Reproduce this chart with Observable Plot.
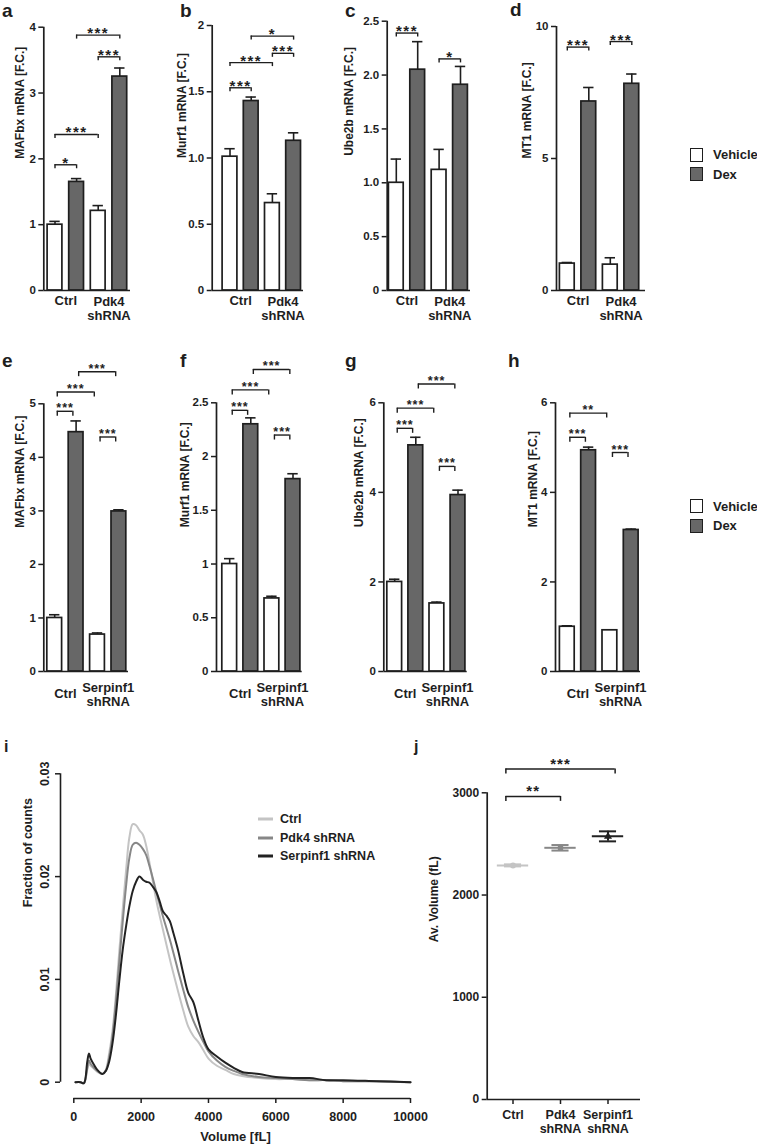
<!DOCTYPE html>
<html><head><meta charset="utf-8">
<script src="https://cdn.jsdelivr.net/npm/d3@7"></script>
<script src="https://cdn.jsdelivr.net/npm/@observablehq/plot@0.6"></script>
<style>
body{margin:0;background:#fff;}
#page{position:relative;width:757px;height:1148px;overflow:hidden;font-family:"Liberation Sans",Arial,sans-serif;font-weight:bold;color:#1e1e1e;background:#fff;}
.abs{position:absolute;}
.letter{position:absolute;font-size:19px;line-height:1.1;}
.sw{position:absolute;width:13px;height:14px;box-sizing:border-box;border:1.5px solid #1e1e1e;}
.lt{position:absolute;font-size:13px;line-height:1.2;transform:translateY(-50%);white-space:nowrap;}
.ll{position:absolute;width:15px;height:3px;transform:translateY(-50%);}
</style></head><body><div id="page"></div><script>
// ---------------- data ----------------
const treatments = ["Vehicle", "Dex"];
const groupsPdk4 = ["Ctrl", "Pdk4\nshRNA"];
const groupsSerp = ["Ctrl", "Serpinf1\nshRNA"];

// order: Ctrl-Vehicle, Ctrl-Dex, shRNA-Vehicle, shRNA-Dex
const mafbxPdk4 = [1.00, 1.65, 1.21, 3.25];
const mafbxPdk4Err = [0.05, 0.05, 0.08, 0.13];
const murf1Pdk4 = [1.01, 1.43, 0.66, 1.13];
const murf1Pdk4Err = [0.06, 0.03, 0.07, 0.06];
const ube2bPdk4 = [1.00, 2.05, 1.12, 1.91];
const ube2bPdk4Err = [0.22, 0.26, 0.19, 0.17];
const mt1Pdk4 = [1.02, 7.16, 0.98, 7.83];
const mt1Pdk4Err = [0.04, 0.53, 0.26, 0.37];

const mafbxSerp = [1.00, 4.47, 0.69, 2.99];
const mafbxSerpErr = [0.06, 0.21, 0.03, 0.03];
const murf1Serp = [1.00, 2.30, 0.68, 1.79];
const murf1SerpErr = [0.05, 0.06, 0.02, 0.05];
const ube2bSerp = [2.00, 5.05, 1.52, 3.94];
const ube2bSerpErr = [0.06, 0.18, 0.03, 0.11];
const mt1Serp = [1.00, 4.94, 0.92, 3.16];
const mt1SerpErr = [0.02, 0.07, 0.01, 0.02];

// brackets: [from bar, to bar, height, label]
const brA = [[0,1,1.91,"*"],[0,2,2.37,"***"],[2,3,3.55,"***"],[1,3,3.88,"***"]];
const brB = [[0,1,1.53,"***"],[0,2,1.72,"***"],[2,3,1.79,"***"],[1,3,1.92,"*"]];
const brC = [[0,1,2.39,"***"],[2,3,2.15,"*"]];
const brD = [[0,1,9.22,"***"],[2,3,9.43,"***"]];
const brE = [[0,1,4.86,"***"],[0,2,5.22,"***"],[1,3,5.60,"***"],[2,3,4.38,"***"]];
const brF = [[0,1,2.43,"***"],[0,2,2.62,"***"],[1,3,2.81,"***"],[2,3,2.20,"***"]];
const brG = [[0,1,5.43,"***"],[0,2,5.88,"***"],[1,3,6.42,"***"],[2,3,4.58,"***"]];
const brH = [[0,1,5.23,"***"],[0,2,5.77,"**"],[2,3,4.89,"***"]];

const ticksA = [0,1,2,3,4], labelsA = ["0","1","2","3","4"];
const ticksB = [0,0.5,1,1.5,2], labelsB = ["0","0.5","1.0","1.5","2"];
const ticksC = [0,0.5,1,1.5,2,2.5], labelsC = ["0","0.5","1.0","1.5","2.0","2.5"];
const ticksD = [0,5,10], labelsD = ["0","5","10"];
const ticksE = [0,1,2,3,4,5], labelsE = ["0","1","2","3","4","5"];
const ticksF = [0,0.5,1,1.5,2,2.5], labelsF = ["0","0.5","1","1.5","2","2.5"];
const ticksG = [0,2,4,6], labelsG = ["0","2","4","6"];
const ticksH = [0,2,4,6], labelsH = ["0","2","4","6"];

// panel i: cell volume distributions
const iSeries = ["Ctrl", "Pdk4 shRNA", "Serpinf1 shRNA"];
const iVolume = [50,200,300,400,450,500,600,700,850,950,1050,1150,1250,1350,1450,1550,1650,1750,1850,1950,2050,2150,2250,2350,2450,2550,2650,2750,2850,2950,3100,3250,3400,3550,3700,3850,4000,4250,4500,4750,5000,5500,6000,6500,7000,7500,8000,9000,10000];
const iCtrl = [0,0,-0.0001,0.0012,0.0018,0.0016,0.0013,0.0010,0.0008,0.0012,0.0028,0.0050,0.0085,0.0127,0.0167,0.0205,0.0238,0.0251,0.0250,0.0245,0.0241,0.0230,0.0213,0.0195,0.0177,0.0162,0.0148,0.0134,0.0120,0.0107,0.0088,0.0070,0.0054,0.0045,0.0039,0.0031,0.0023,0.0016,0.0012,0.0008,0.0006,0.0004,0.0003,0.0003,0.0002,0.0002,0.0001,0.0001,0.0000];
const iPdk4 = [0,0,-0.0001,0.0014,0.0021,0.0018,0.0014,0.0011,0.0008,0.0011,0.0024,0.0045,0.0078,0.0117,0.0155,0.0190,0.0218,0.0231,0.0233,0.0231,0.0227,0.0221,0.0210,0.0198,0.0185,0.0173,0.0161,0.0150,0.0139,0.0127,0.0108,0.0090,0.0073,0.0060,0.0049,0.0039,0.0030,0.0021,0.0015,0.0011,0.0008,0.0005,0.0004,0.0003,0.0002,0.0002,0.0001,0.0001,0.0000];
const iSerp = [0,0,-0.0001,0.0020,0.0028,0.0023,0.0017,0.0012,0.0008,0.0011,0.0020,0.0038,0.0065,0.0098,0.0128,0.0151,0.0171,0.0186,0.0195,0.0200,0.0197,0.0195,0.0194,0.0190,0.0185,0.0176,0.0166,0.0162,0.0157,0.0146,0.0128,0.0106,0.0087,0.0078,0.0060,0.0043,0.0032,0.0025,0.0019,0.0014,0.0010,0.0008,0.0005,0.0004,0.0004,0.0002,0.0002,0.0001,0.0000];
const iXTicks = [0,2000,4000,6000,8000,10000], iXLabels = ["0","2000","4000","6000","8000","10000"];
const iYTicks = [0,0.01,0.02,0.03], iYLabels = ["0","0.01","0.02","0.03"];

// panel j: average volume
const jGroups = ["Ctrl", "Pdk4\nshRNA", "Serpinf1\nshRNA"];
const jMean = [2290, 2462, 2574];
const jSem = [10, 27, 49];
const jBrackets = [[-0.15, 1.0, 2965, "**"], [-0.15, 2.15, 3233, "***"]];
const jTicks = [0,1000,2000,3000], jLabels = ["0","1000","2000","3000"];

// ---------------- styles / layout ----------------
const DEX = "#676767";
const seriesColors = ["#c4c4c4", "#878787", "#222222"];
const jSymbols = ["circle", "square", "triangle"];
const baseStyle = {background:"transparent", overflow:"visible", fontFamily:'"Liberation Sans", Arial, sans-serif', fontSize:"12px", fontWeight:"bold", display:"block"};
const page = document.getElementById("page");
function place(node, left, top, width, height){
  const d = document.createElement("div");
  d.className = "abs"; d.style.left = left+"px"; d.style.top = top+"px";
  d.style.width = width+"px"; d.style.height = height+"px";
  d.appendChild(node); page.appendChild(d);
}
function spaceStars(svg, sp){
  svg.querySelectorAll("text").forEach(t => { if (/^\*+$/.test(t.textContent)) t.setAttribute("letter-spacing", sp); });
}
const row1 = {top:0, height:335, y0:290, singleDy:5.5, multiDy:5.5, starDy:3, starSize:15, starSp:1.5, legPx:4, brIn1:0, brIn2:0, titleDy:0};
const row2 = {top:345, height:365, y0:671, singleDy:17, multiDy:10.5, starDy:1, starSize:12.5, starSp:1, legPx:5, brIn1:0.12, brIn2:0.15, titleDy:-10};

function barPanel(P){
  const L = Object.assign({}, P.row, P.layout);
  const xLo = (L.axisX - L.c0)/L.step, xHi = (L.baseEnd - L.c0)/L.step;
  const ppu = (L.y0 - L.yTopPx)/P.yTop;
  const hw = 7.4/L.step, cap = 5.2/L.step, leg = L.legPx/ppu;
  const bars = P.vals.map((v,k)=>({pos:k, g:P.groups[Math.floor(k/2)], t:treatments[k%2], v, top:v + P.errs[k]}));
  const br = P.brackets.map(([a,b,y,s])=>({x1:a + L.brIn1, x2:b - L.brIn2, y, s}));
  const labelMap = new Map(P.ticks.map((t,k)=>[t, P.tickLabels[k]]));
  const groupRows = P.groups.map((g,k)=>({g, pos:2*k + 0.5, multi:g.includes("\n")}));
  const svg = Plot.plot({
    width:L.width, height:L.height,
    marginLeft:L.axisX - L.left, marginRight:L.left + L.width - L.baseEnd,
    marginTop:L.yTopPx - L.top, marginBottom:L.top + L.height - L.y0,
    x:{type:"linear", domain:[xLo, xHi], axis:null},
    y:{type:"linear", domain:[0, P.yTop]},
    style:baseStyle,
    marks:[
      Plot.ruleX(bars, {x:"pos", y1:"v", y2:"top", strokeWidth:1.6}),
      Plot.ruleY(bars, {y:"top", x1:d=>d.pos-cap, x2:d=>d.pos+cap, strokeWidth:1.6}),
      Plot.rect(bars, {x1:d=>d.pos-hw, x2:d=>d.pos+hw, y1:0, y2:"v", fill:d=>d.t==="Dex"?DEX:"white", stroke:"currentColor", strokeWidth:1.7}),
      Plot.ruleX([xLo], {strokeWidth:1.7}),
      Plot.ruleY([0], {strokeWidth:1.7}),
      Plot.axisY({ticks:P.ticks, tickSize:5, tickPadding:3, tickFormat:d=>labelMap.get(d), label:null, fontSize:11.5, strokeWidth:1.5}),
      Plot.ruleY(br, {y:"y", x1:"x1", x2:"x2", strokeWidth:1.4}),
      Plot.ruleX(br, {x:"x1", y1:d=>d.y-leg, y2:"y", strokeWidth:1.4}),
      Plot.ruleX(br, {x:"x2", y1:d=>d.y-leg, y2:"y", strokeWidth:1.4}),
      Plot.text(br, {x:d=>(d.x1+d.x2)/2, y:"y", text:"s", lineAnchor:"bottom", dy:L.starDy, fontSize:L.starSize}),
      Plot.text(groupRows.filter(d=>!d.multi), {x:"pos", y:0, text:"g", lineAnchor:"top", dy:L.singleDy, fontSize:13}),
      Plot.text(groupRows.filter(d=>d.multi), {x:"pos", y:0, text:"g", lineAnchor:"top", dy:L.multiDy, fontSize:13, lineHeight:1.08}),
      Plot.text([P.title], {frameAnchor:"left", text:d=>d, rotate:-90, dx:P.titleDx, dy:L.titleDy, fontSize:12})
    ]
  });
  spaceStars(svg, L.starSp);
  place(svg, L.left, L.top, L.width, L.height);
}

barPanel({row:row1, layout:{left:0, width:140, axisX:43.3, baseEnd:130, c0:54.5, step:21.6, yTopPx:26.7},
  vals:mafbxPdk4, errs:mafbxPdk4Err, groups:groupsPdk4, yTop:4, ticks:ticksA, tickLabels:labelsA, brackets:brA, title:"MAFbx mRNA [F.C.]", titleDx:-24});
barPanel({row:row1, layout:{left:165, width:145, axisX:211.7, baseEnd:303, c0:229.5, step:21.2, yTopPx:25},
  vals:murf1Pdk4, errs:murf1Pdk4Err, groups:groupsPdk4, yTop:2, ticks:ticksB, tickLabels:labelsB, brackets:brB, title:"Murf1 mRNA [F.C.]", titleDx:-30});
barPanel({row:row1, layout:{left:335, width:140, axisX:386.7, baseEnd:470, c0:395.8, step:21.4, yTopPx:20.7},
  vals:ube2bPdk4, errs:ube2bPdk4Err, groups:groupsPdk4, yTop:2.5, ticks:ticksC, tickLabels:labelsC, brackets:brC, title:"Ube2b mRNA [F.C.]", titleDx:-38});
barPanel({row:row1, layout:{left:500, width:150, axisX:556, baseEnd:645, c0:566.8, step:21.5, yTopPx:26},
  vals:mt1Pdk4, errs:mt1Pdk4Err, groups:groupsPdk4, yTop:10, ticks:ticksD, tickLabels:labelsD, brackets:brD, title:"MT1 mRNA [F.C.]", titleDx:-29});

barPanel({row:row2, layout:{left:0, width:135, axisX:43.3, baseEnd:128, c0:54.2, step:21.4, yTopPx:403.3},
  vals:mafbxSerp, errs:mafbxSerpErr, groups:groupsSerp, yTop:5, ticks:ticksE, tickLabels:labelsE, brackets:brE, title:"MAFbx mRNA [F.C.]", titleDx:-24});
barPanel({row:row2, layout:{left:165, width:145, axisX:216, baseEnd:301.7, c0:229.2, step:21.1, yTopPx:402.3},
  vals:murf1Serp, errs:murf1SerpErr, groups:groupsSerp, yTop:2.5, ticks:ticksF, tickLabels:labelsF, brackets:brF, title:"Murf1 mRNA [F.C.]", titleDx:-31});
barPanel({row:row2, layout:{left:335, width:140, axisX:383.3, baseEnd:466.7, c0:394.2, step:21.1, yTopPx:402.3},
  vals:ube2bSerp, errs:ube2bSerpErr, groups:groupsSerp, yTop:6, ticks:ticksG, tickLabels:labelsG, brackets:brG, title:"Ube2b mRNA [F.C.]", titleDx:-25});
barPanel({row:row2, layout:{left:500, width:150, axisX:555, baseEnd:640, c0:566.8, step:21.3, yTopPx:402.3},
  vals:mt1Serp, errs:mt1SerpErr, groups:groupsSerp, yTop:6, ticks:ticksH, tickLabels:labelsH, brackets:brH, title:"MT1 mRNA [F.C.]", titleDx:-22});

// ---------------- panel i ----------------
(function(){
  const L = {left:0, top:735, width:430, height:413, frameLeft:60, frameRight:410, frameTop:773.3, frameBottom:1098, x0px:73.3, y0px:1081.7};
  const xMax = iXTicks[iXTicks.length-1], yMax = iYTicks[iYTicks.length-1];
  const xMin = -(L.x0px - L.frameLeft)/(L.frameRight - L.x0px)*xMax;
  const yMin = -(L.frameBottom - L.y0px)/(L.y0px - L.frameTop)*yMax;
  const pxPerX = (L.frameRight - L.x0px)/xMax;
  const rows = [];
  [iCtrl, iPdk4, iSerp].forEach((arr, s) => arr.forEach((f, k) => rows.push({s:iSeries[s], v:iVolume[k], f})));
  const xl = new Map(iXTicks.map((t,k)=>[t, iXLabels[k]]));
  const svg = Plot.plot({
    width:L.width, height:L.height,
    marginLeft:L.frameLeft - L.left, marginRight:L.left + L.width - L.frameRight,
    marginTop:L.frameTop - L.top, marginBottom:L.top + L.height - L.frameBottom,
    x:{type:"linear", domain:[xMin, xMax]},
    y:{type:"linear", domain:[yMin, yMax], axis:null},
    color:{domain:iSeries, range:seriesColors},
    style:baseStyle,
    marks:[
      Plot.ruleX([xMin], {y1:0, y2:yMax, strokeWidth:1.6}),
      Plot.ruleY(iYTicks, {y:d=>d, x1:xMin, x2:xMin - 5/pxPerX, strokeWidth:1.5}),
      Plot.text(iYTicks, {frameAnchor:"left", y:d=>d, text:(d,k)=>iYLabels[k], rotate:-90, lineAnchor:"bottom", textAnchor:"middle", dx:-11.5, fontSize:12.5}),
      Plot.ruleY([yMin], {x1:0, x2:xMax, strokeWidth:1.6}),
      Plot.axisX({ticks:iXTicks, tickSize:5, tickPadding:9, tickFormat:d=>xl.get(d), label:null, fontSize:12.5, strokeWidth:1.5}),
      Plot.line(rows, {x:"v", y:"f", z:"s", stroke:"s", strokeWidth:2, curve:"catmull-rom"}),
      Plot.text(["Volume [fL]"], {frameAnchor:"bottom", text:d=>d, dy:42, fontSize:13}),
      Plot.text(["Fraction of counts"], {frameAnchor:"left", text:d=>d, rotate:-90, dx:-33, dy:-29, fontSize:12.5})
    ]
  });
  place(svg, L.left, L.top, L.width, L.height);
})();

// ---------------- panel j ----------------
(function(){
  const L = {left:420, top:735, width:337, height:413, axisX:486.7, frameRight:640, c0:512.5, step:47.5, y0:1099, yTopPx:792.3};
  const xLo = (L.axisX - L.c0)/L.step, xHi = (L.frameRight - L.c0)/L.step;
  const yTop = jTicks[jTicks.length-1];
  const ppu = (L.y0 - L.yTopPx)/yTop;
  const rows = jGroups.map((g,k)=>({g, pos:k, m:jMean[k], s:jSem[k], c:seriesColors[k], sym:jSymbols[k]}));
  const br = jBrackets.map(([a,b,y,s])=>({x1:a, x2:b, y, s}));
  const leg = 5/ppu;
  const yl = new Map(jTicks.map((t,k)=>[t, jLabels[k]]));
  const svg = Plot.plot({
    width:L.width, height:L.height,
    marginLeft:L.axisX - L.left, marginRight:L.left + L.width - L.frameRight,
    marginTop:L.yTopPx - L.top, marginBottom:L.top + L.height - L.y0,
    x:{type:"linear", domain:[xLo, xHi]},
    y:{type:"linear", domain:[0, yTop]},
    symbol:{type:"identity"},
    style:baseStyle,
    marks:[
      Plot.ruleX([xLo], {strokeWidth:1.7}),
      Plot.ruleY([0], {strokeWidth:1.7}),
      Plot.axisY({ticks:jTicks, tickSize:5, tickPadding:3, tickFormat:d=>yl.get(d), label:null, fontSize:12, strokeWidth:1.5}),
      Plot.axisX({ticks:rows.map(d=>d.pos), tickSize:5, tickPadding:4, tickFormat:k=>jGroups[k], label:null, fontSize:12.5, lineHeight:1.15, strokeWidth:1.5}),
      Plot.ruleX(rows, {x:"pos", y1:d=>d.m-d.s, y2:d=>d.m+d.s, stroke:"c", strokeWidth:2}),
      Plot.ruleY(rows, {y:d=>d.m-d.s, x1:d=>d.pos-0.18, x2:d=>d.pos+0.18, stroke:"c", strokeWidth:2}),
      Plot.ruleY(rows, {y:d=>d.m+d.s, x1:d=>d.pos-0.18, x2:d=>d.pos+0.18, stroke:"c", strokeWidth:2}),
      Plot.ruleY(rows, {y:"m", x1:d=>d.pos-0.33, x2:d=>d.pos+0.33, stroke:"c", strokeWidth:2}),
      Plot.dot(rows, {x:"pos", y:"m", symbol:"sym", fill:"c", r:3}),
      Plot.ruleY(br, {y:"y", x1:"x1", x2:"x2", strokeWidth:1.5}),
      Plot.ruleX(br, {x:"x1", y1:d=>d.y-leg, y2:"y", strokeWidth:1.5}),
      Plot.ruleX(br, {x:"x2", y1:d=>d.y-leg, y2:"y", strokeWidth:1.5}),
      Plot.text(br, {x:d=>(d.x1+d.x2)/2, y:"y", text:"s", lineAnchor:"bottom", dy:0, fontSize:15}),
      Plot.text(["Av. Volume (fL)"], {frameAnchor:"left", text:d=>d, rotate:-90, dx:-53, dy:-4, fontSize:12})
    ]
  });
  spaceStars(svg, 1);
  place(svg, L.left, L.top, L.width, L.height);
})();

// ---------------- HTML labels & legends ----------------
function addDiv(cls, text, left, top, extra){
  const d = document.createElement("div"); d.className = cls; d.textContent = text || "";
  d.style.left = left+"px"; d.style.top = top+"px";
  if (extra) Object.assign(d.style, extra);
  page.appendChild(d); return d;
}
[["a",2,1],["b",180,1],["c",345,1],["d",510,0],["e",2,351],["f",180,351],["g",345,351],["h",508,351]].forEach(([t,x,y])=>addDiv("letter", t, x, y));
addDiv("letter", "i", 4, 738, {fontSize:"16px"});
addDiv("letter", "j", 414, 738, {fontSize:"16px"});

function barLegend(top){
  treatments.forEach((t,k)=>{
    addDiv("sw", "", 690, top + k*19.3, {background: t==="Dex"?DEX:"white"});
    addDiv("lt", t, 713, top + 7.5 + k*19.3);
  });
}
barLegend(147.7);
barLegend(499.3);

iSeries.forEach((s,k)=>{
  const y = 819.3 + k*18.35;
  addDiv("ll", "", 258, y, {background: seriesColors[k]});
  addDiv("lt", s, 280, y, {fontSize:"12.5px"});
});
</script></body></html>
